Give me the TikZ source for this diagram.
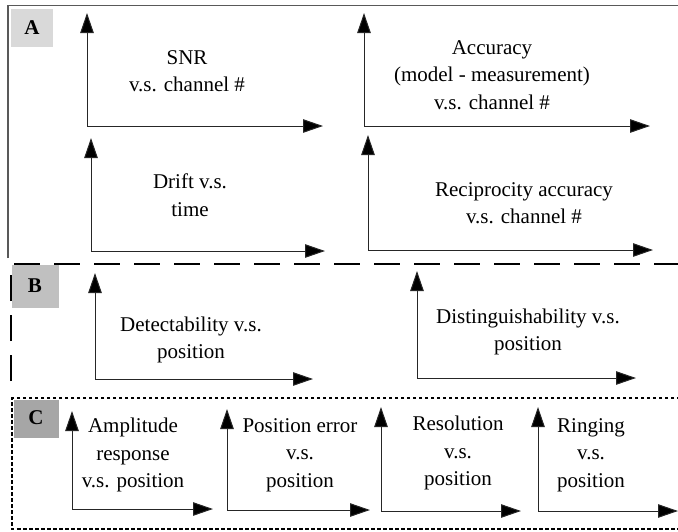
\documentclass[tikz,border=0pt]{standalone}
\usepackage{fontspec}
\setmainfont{Liberation Serif}
\usetikzlibrary{arrows.meta}
\definecolor{tagA}{HTML}{D9D9D9}
\definecolor{tagB}{HTML}{C0C0C0}
\definecolor{tagC}{HTML}{A6A6A6}
\tikzset{
  axis/.style={line width=1pt, draw=black!85, {Triangle[length=20pt,width=13.5pt,fill=black]}-{Triangle[length=20pt,width=13.5pt,fill=black]}},
  lbl/.style={align=center, inner sep=0pt, font=\fontsize{21}{27.5}\selectfont},
  tag/.style={inner sep=0pt, font=\fontsize{21}{25}\selectfont\bfseries},
}
\begin{document}
\begin{tikzpicture}[x=1pt,y=-1pt]
\useasboundingbox (0,0) rectangle (678,531);
% frames
\draw[line width=1.4pt, draw=black!65] (8,258) -- (8,5.5) -- (680,5.5);
\draw[line width=1.5pt, dash pattern=on 26pt off 14pt] (11,381) -- (11,264) -- (680,264);
\draw[line width=2.5pt, dash pattern=on 3.5pt off 2.5pt] (680,398) -- (12,398) -- (12,529) -- (680,529);
% tags
\fill[tagA] (11,9) rectangle (53,47);
\node[tag] (tA) at (32,28) {A};
\fill[tagB] (12,265) rectangle (59,308);
\node[tag] (tB) at (35,286) {B};
\fill[tagC] (13.5,399.5) rectangle (59,438);
\node[tag] (tC) at (36,418) {C};
% axes
\coordinate (o1) at (87,126);  \coordinate (y1) at (87,13);   \coordinate (x1) at (323,126);
\coordinate (o2) at (91,251);  \coordinate (y2) at (91,138);  \coordinate (x2) at (325,251);
\coordinate (o3) at (364,126); \coordinate (y3) at (364,13);  \coordinate (x3) at (650,126);
\coordinate (o4) at (368,250); \coordinate (y4) at (368,135); \coordinate (x4) at (653,250);
\coordinate (o5) at (95,379);  \coordinate (y5) at (95,273);  \coordinate (x5) at (313,379);
\coordinate (o6) at (417,378); \coordinate (y6) at (417,271); \coordinate (x6) at (636,378);
\coordinate (o7) at (72,509);  \coordinate (y7) at (72,411);  \coordinate (x7) at (213,509);
\coordinate (o8) at (227,510); \coordinate (y8) at (227,409); \coordinate (x8) at (370,510);
\coordinate (o9) at (381,511); \coordinate (y9) at (381,407); \coordinate (x9) at (521,511);
\coordinate (o10) at (538,511); \coordinate (y10) at (538,407); \coordinate (x10) at (678,511);
\foreach \i in {1,...,10} { \draw[axis] (y\i) -- (o\i) -- (x\i); }
% labels
\node[lbl] (l1) at (187,71) {SNR\\v.s. channel \#};
\node[lbl] (l2) at (190,195) {Drift v.s.\\time};
\node[lbl] (l3) at (492,75) {Accuracy\\(model - measurement)\\v.s. channel \#};
\node[lbl] (l4) at (524,203) {Reciprocity accuracy\\v.s. channel \#};
\node[lbl] (l5) at (191,340) {Detectability v.s.\\position};
\node[lbl] (l6) at (528,332) {Distinguishability v.s.\\position};
\node[lbl] (l7) at (133,455) {Amplitude\\response\\v.s. position};
\node[lbl] (l8) at (300,455) {Position error\\v.s.\\position};
\node[lbl] (l9) at (458,453) {Resolution\\v.s.\\position};
\node[lbl] (l10) at (591,455) {Ringing\\v.s.\\position};
\end{tikzpicture}
\end{document}
